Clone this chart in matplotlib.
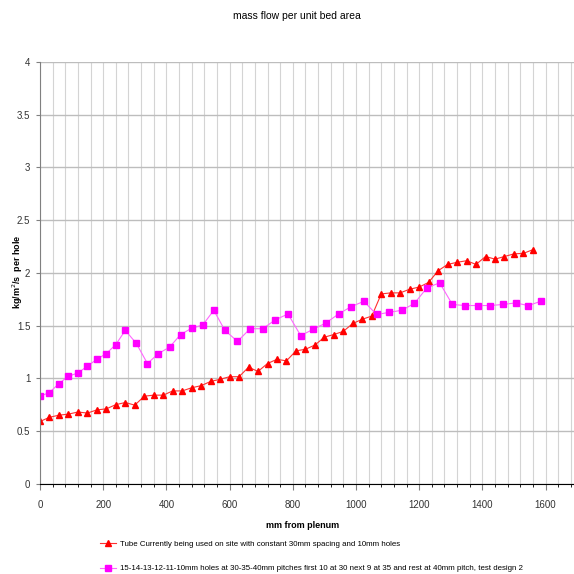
import matplotlib.pyplot as plt
from matplotlib.ticker import MultipleLocator

plt.rcParams['font.family'] = ['Liberation Sans', 'DejaVu Sans']

# red series: holes at a constant 30 mm pitch
tube_x = [30 * i for i in range(53)]
tube_y = [0.59, 0.63, 0.65, 0.66, 0.68, 0.67, 0.70, 0.71, 0.75, 0.77,
          0.745, 0.83, 0.84, 0.84, 0.88, 0.88, 0.91, 0.93, 0.97, 0.99,
          1.015, 1.015, 1.105, 1.065, 1.14, 1.18, 1.165, 1.26, 1.275, 1.315,
          1.39, 1.415, 1.445, 1.52, 1.56, 1.59, 1.80, 1.81, 1.81, 1.845,
          1.865, 1.91, 2.02, 2.08, 2.10, 2.115, 2.08, 2.155, 2.13, 2.155,
          2.18, 2.185, 2.22]

# pink series: first 10 at 30 mm, next 9 at 35 mm, rest at 40 mm
design_x = ([30 * i for i in range(10)]
            + [270 + 35 * i for i in range(1, 10)]
            + [585 + 40 * i for i in range(1, 26)])
design_y = [0.83, 0.865, 0.95, 1.02, 1.05, 1.115, 1.18, 1.235, 1.32, 1.455,
            1.33, 1.14, 1.235, 1.295, 1.415, 1.475, 1.505, 1.645, 1.455,
            1.35, 1.47, 1.47, 1.555, 1.61, 1.405, 1.465, 1.525, 1.61, 1.68,
            1.73, 1.605, 1.625, 1.645, 1.71, 1.86, 1.905, 1.70, 1.69, 1.69,
            1.69, 1.70, 1.715, 1.69, 1.73]

yticks = [0, 0.5, 1, 1.5, 2, 2.5, 3, 3.5, 4]
ytick_labels = ['0', '0.5', '1', '1.5', '2', '2.5', '3', '3.5', '4']

tube_label = 'Tube Currently being used on site with constant 30mm spacing and 10mm holes'
design_label = ('15-14-13-12-11-10mm holes at 30-35-40mm pitches first 10 at 30 '
                'next 9 at 35 and rest at 40mm pitch, test design 2')

fig = plt.figure(figsize=(5.74, 5.74), dpi=100)
ax = fig.add_axes([40 / 574, 1 - 483.7 / 574, 534 / 574, 421.7 / 574])

ax.plot(tube_x, tube_y, color='#ff3030', lw=0.8, marker='^', ms=4.5,
        mfc='#ff0000', mec='#ff0000', label=tube_label)
ax.plot(design_x, design_y, color='#ff66ff', lw=0.8, marker='s', ms=4,
        mfc='#ff00ff', mec='#ff00ff', label=design_label)

ax.set_xlim(0, 1690)
ax.set_ylim(0, 4)
ax.xaxis.set_major_locator(MultipleLocator(200))
ax.xaxis.set_minor_locator(MultipleLocator(40))
ax.set_yticks(yticks, ytick_labels)

ax.grid(which='minor', axis='x', color='#d4d4d4', lw=0.8)
ax.grid(which='major', axis='x', color='#d4d4d4', lw=0.8)
ax.grid(which='major', axis='y', color='#bdbdbd', lw=1.0)
ax.set_axisbelow(True)

for s in ['top', 'right']:
    ax.spines[s].set_visible(False)
ax.spines['left'].set_color('#808080')
ax.spines['bottom'].set_color('black')
ax.tick_params(axis='both', labelsize=7, labelcolor='#333333', color='#808080')
ax.tick_params(axis='x', which='major', length=4, pad=8)
ax.tick_params(axis='x', which='minor', length=2)
ax.tick_params(axis='y', length=3, pad=4)

fig.text(303 / 574, 1 - 526 / 574, 'mm from plenum', ha='center', va='center',
         fontsize=6.5, fontweight='bold')
fig.text(18 / 574, 1 - 272 / 574, 'kg/m$^2$/s  per hole', ha='center',
         va='center', rotation=90, fontsize=6.5, fontweight='bold')
fig.text(297 / 574, 1 - 16 / 574, 'mass flow per unit bed area', ha='center',
         va='center', fontsize=7.5)

fig.legend(loc='upper left', bbox_to_anchor=(100 / 574, 1 - 540 / 574),
           frameon=False, fontsize=5.7, handlelength=2.0, labelspacing=2.2,
           handletextpad=0.5, borderaxespad=0, borderpad=0)

fig.savefig('out.png', dpi=100)
